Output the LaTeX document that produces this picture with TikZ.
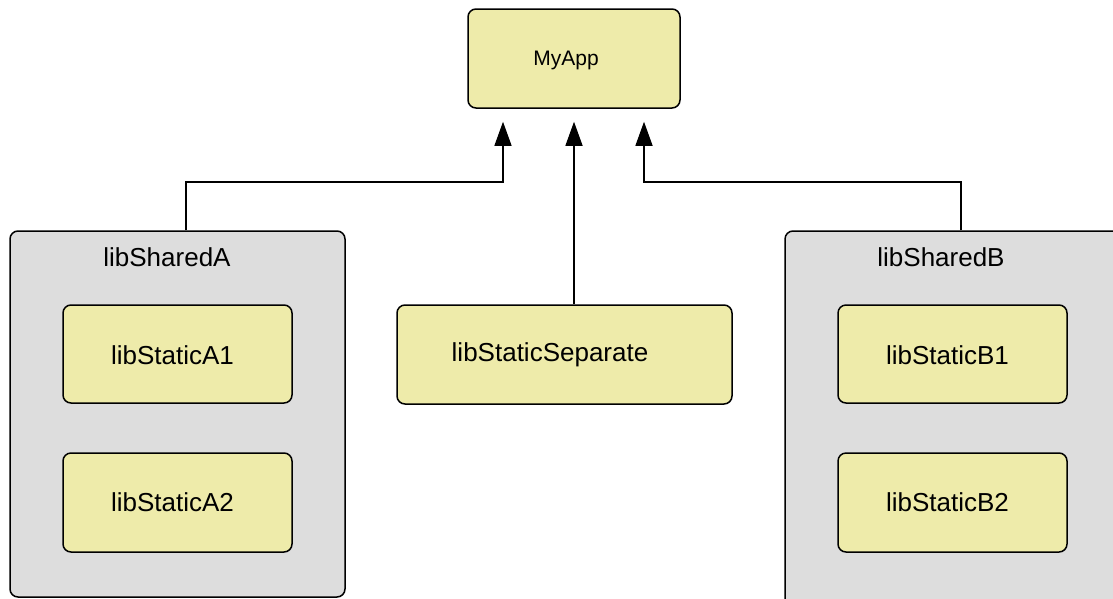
\documentclass[tikz,border=0pt]{standalone}
\usepackage{fontspec}
\setmainfont{Liberation Sans}
\usetikzlibrary{arrows.meta}
\definecolor{boxyellow}{RGB}{238,235,170}
\definecolor{boxgray}{RGB}{221,221,221}
\tikzset{
  ybox/.style={draw=black, line width=1.5pt, rounded corners=8pt, fill=boxyellow, inner sep=0pt},
  gbox/.style={draw=black, line width=1.5pt, rounded corners=8pt, fill=boxgray, inner sep=0pt},
  lbl/.style={inner sep=0pt, font=\fontsize{26}{29}\selectfont},
  smalllbl/.style={inner sep=0pt, font=\fontsize{21}{24}\selectfont},
  conn/.style={draw=black, line width=1.3pt, -{Triangle[length=24pt,width=17pt]}, shorten >=13pt}
}
\begin{document}
\begin{tikzpicture}[x=1pt,y=-1pt]
\useasboundingbox (0,0) rectangle (1113,598);
\clip (0,0) rectangle (1113,598);
% boxes
\node[ybox, minimum width=212pt, minimum height=99pt] (app) at (574,58.5) {};
\node[gbox, minimum width=335pt, minimum height=366pt] (shA) at (177.5,414) {};
\node[gbox, minimum width=340pt, minimum height=380pt] (shB) at (955,421) {};
\node[ybox, minimum width=229pt, minimum height=98pt] (a1) at (177.5,354) {};
\node[ybox, minimum width=229pt, minimum height=99pt] (a2) at (177.5,502.5) {};
\node[ybox, minimum width=335pt, minimum height=99pt] (sep) at (564.5,354.5) {};
\node[ybox, minimum width=229pt, minimum height=98pt] (b1) at (952.5,354) {};
\node[ybox, minimum width=229pt, minimum height=99pt] (b2) at (952.5,502.5) {};
% labels
\node[smalllbl] (tapp) at (566,60) {MyApp};
\node[lbl] (tshA) at (167,257) {libSharedA};
\node[lbl] (tshB) at (941,257) {libSharedB};
\node[lbl] (ta1) at (172.5,355) {libStaticA1};
\node[lbl] (ta2) at (172.5,502) {libStaticA2};
\node[lbl] (tsep) at (550,355) {libStaticSeparate};
\node[lbl] (tb1) at (947.5,355) {libStaticB1};
\node[lbl] (tb2) at (947.5,502) {libStaticB2};
% connectors
\coordinate (jA) at (503,182);
\coordinate (jB) at (644,182);
\draw[conn] ([xshift=8.5pt]shA.north) |- (jA) -- ([xshift=-71pt]app.south);
\draw[conn] (sep.north -| app.south) -- (app.south);
\draw[conn] ([xshift=6pt]shB.north) |- (jB) -- ([xshift=70pt]app.south);
\end{tikzpicture}
\end{document}
